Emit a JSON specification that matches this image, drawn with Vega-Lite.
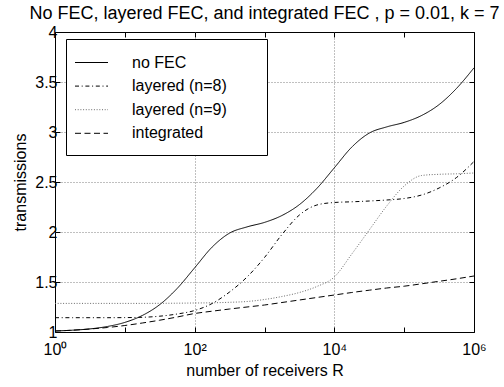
{
  "$schema": "https://vega.github.io/schema/vega-lite/v6.json",
  "width": 419,
  "height": 300,
  "autosize": {"type": "none"},
  "padding": {"left": 55, "top": 32, "right": 30, "bottom": 55},
  "background": "white",
  "config": {
    "view": {"stroke": "black", "strokeWidth": 1},
    "font": "Liberation Sans",
    "legend": {
      "orient": "none",
      "legendX": 11,
      "legendY": 7,
      "title": null,
      "strokeColor": "black",
      "fillColor": "white",
      "padding": 13,
      "symbolType": "M-1.65,0H1.65",
      "symbolSize": 400,
      "symbolStrokeWidth": 1,
      "symbolOffset": 2,
      "labelFont": "Liberation Sans",
      "labelFontSize": 16,
      "labelColor": "black",
      "labelOffset": 30,
      "labelLimit": 400,
      "rowPadding": 4.6
    }
  },
  "title": {
    "text": "No FEC, layered FEC, and integrated FEC , p = 0.01, k = 7",
    "font": "Liberation Sans",
    "fontSize": 18,
    "fontWeight": "normal",
    "color": "black",
    "anchor": "middle",
    "offset": 1
  },
  "data": {
    "values": [
      {"R": 1, "series": "no FEC", "T": 1.010},
      {"R": 1.778, "series": "no FEC", "T": 1.018},
      {"R": 3.162, "series": "no FEC", "T": 1.031},
      {"R": 5.623, "series": "no FEC", "T": 1.055},
      {"R": 10, "series": "no FEC", "T": 1.096},
      {"R": 17.78, "series": "no FEC", "T": 1.165},
      {"R": 31.62, "series": "no FEC", "T": 1.274},
      {"R": 56.23, "series": "no FEC", "T": 1.436},
      {"R": 100, "series": "no FEC", "T": 1.642},
      {"R": 177.8, "series": "no FEC", "T": 1.849},
      {"R": 316.2, "series": "no FEC", "T": 1.989},
      {"R": 562.3, "series": "no FEC", "T": 2.051},
      {"R": 1000, "series": "no FEC", "T": 2.096},
      {"R": 1778, "series": "no FEC", "T": 2.165},
      {"R": 3162, "series": "no FEC", "T": 2.274},
      {"R": 5623, "series": "no FEC", "T": 2.436},
      {"R": 10000, "series": "no FEC", "T": 2.642},
      {"R": 17783, "series": "no FEC", "T": 2.849},
      {"R": 31623, "series": "no FEC", "T": 2.989},
      {"R": 56234, "series": "no FEC", "T": 3.051},
      {"R": 100000, "series": "no FEC", "T": 3.096},
      {"R": 177828, "series": "no FEC", "T": 3.165},
      {"R": 316228, "series": "no FEC", "T": 3.274},
      {"R": 562341, "series": "no FEC", "T": 3.436},
      {"R": 1000000, "series": "no FEC", "T": 3.642},

      {"R": 1, "series": "layered (n=8)", "T": 1.143},
      {"R": 1.778, "series": "layered (n=8)", "T": 1.143},
      {"R": 3.162, "series": "layered (n=8)", "T": 1.143},
      {"R": 5.623, "series": "layered (n=8)", "T": 1.143},
      {"R": 10, "series": "layered (n=8)", "T": 1.144},
      {"R": 17.78, "series": "layered (n=8)", "T": 1.147},
      {"R": 31.62, "series": "layered (n=8)", "T": 1.158},
      {"R": 56.23, "series": "layered (n=8)", "T": 1.180},
      {"R": 100, "series": "layered (n=8)", "T": 1.215},
      {"R": 177.8, "series": "layered (n=8)", "T": 1.285},
      {"R": 316.2, "series": "layered (n=8)", "T": 1.400},
      {"R": 562.3, "series": "layered (n=8)", "T": 1.550},
      {"R": 1000, "series": "layered (n=8)", "T": 1.745},
      {"R": 1778, "series": "layered (n=8)", "T": 1.975},
      {"R": 3162, "series": "layered (n=8)", "T": 2.170},
      {"R": 5623, "series": "layered (n=8)", "T": 2.270},
      {"R": 10000, "series": "layered (n=8)", "T": 2.295},
      {"R": 17783, "series": "layered (n=8)", "T": 2.302},
      {"R": 31623, "series": "layered (n=8)", "T": 2.310},
      {"R": 56234, "series": "layered (n=8)", "T": 2.320},
      {"R": 100000, "series": "layered (n=8)", "T": 2.335},
      {"R": 177828, "series": "layered (n=8)", "T": 2.370},
      {"R": 316228, "series": "layered (n=8)", "T": 2.440},
      {"R": 562341, "series": "layered (n=8)", "T": 2.545},
      {"R": 1000000, "series": "layered (n=8)", "T": 2.705},

      {"R": 1, "series": "layered (n=9)", "T": 1.286},
      {"R": 1.778, "series": "layered (n=9)", "T": 1.286},
      {"R": 3.162, "series": "layered (n=9)", "T": 1.286},
      {"R": 5.623, "series": "layered (n=9)", "T": 1.286},
      {"R": 10, "series": "layered (n=9)", "T": 1.286},
      {"R": 17.78, "series": "layered (n=9)", "T": 1.286},
      {"R": 31.62, "series": "layered (n=9)", "T": 1.287},
      {"R": 56.23, "series": "layered (n=9)", "T": 1.288},
      {"R": 100, "series": "layered (n=9)", "T": 1.290},
      {"R": 177.8, "series": "layered (n=9)", "T": 1.292},
      {"R": 316.2, "series": "layered (n=9)", "T": 1.297},
      {"R": 562.3, "series": "layered (n=9)", "T": 1.305},
      {"R": 1000, "series": "layered (n=9)", "T": 1.325},
      {"R": 1778, "series": "layered (n=9)", "T": 1.355},
      {"R": 3162, "series": "layered (n=9)", "T": 1.395},
      {"R": 5623, "series": "layered (n=9)", "T": 1.455},
      {"R": 10000, "series": "layered (n=9)", "T": 1.550},
      {"R": 17783, "series": "layered (n=9)", "T": 1.780},
      {"R": 31623, "series": "layered (n=9)", "T": 2.020},
      {"R": 56234, "series": "layered (n=9)", "T": 2.260},
      {"R": 100000, "series": "layered (n=9)", "T": 2.460},
      {"R": 177828, "series": "layered (n=9)", "T": 2.565},
      {"R": 316228, "series": "layered (n=9)", "T": 2.577},
      {"R": 562341, "series": "layered (n=9)", "T": 2.582},
      {"R": 1000000, "series": "layered (n=9)", "T": 2.590},

      {"R": 1, "series": "integrated", "T": 1.010},
      {"R": 1.778, "series": "integrated", "T": 1.018},
      {"R": 3.162, "series": "integrated", "T": 1.030},
      {"R": 5.623, "series": "integrated", "T": 1.045},
      {"R": 10, "series": "integrated", "T": 1.065},
      {"R": 17.78, "series": "integrated", "T": 1.090},
      {"R": 31.62, "series": "integrated", "T": 1.118},
      {"R": 56.23, "series": "integrated", "T": 1.150},
      {"R": 100, "series": "integrated", "T": 1.185},
      {"R": 177.8, "series": "integrated", "T": 1.208},
      {"R": 316.2, "series": "integrated", "T": 1.230},
      {"R": 562.3, "series": "integrated", "T": 1.250},
      {"R": 1000, "series": "integrated", "T": 1.270},
      {"R": 1778, "series": "integrated", "T": 1.295},
      {"R": 3162, "series": "integrated", "T": 1.320},
      {"R": 5623, "series": "integrated", "T": 1.345},
      {"R": 10000, "series": "integrated", "T": 1.370},
      {"R": 17783, "series": "integrated", "T": 1.395},
      {"R": 31623, "series": "integrated", "T": 1.418},
      {"R": 56234, "series": "integrated", "T": 1.440},
      {"R": 100000, "series": "integrated", "T": 1.458},
      {"R": 177828, "series": "integrated", "T": 1.482},
      {"R": 316228, "series": "integrated", "T": 1.507},
      {"R": 562341, "series": "integrated", "T": 1.532},
      {"R": 1000000, "series": "integrated", "T": 1.560}
    ]
  },
  "layer": [
    {
      "mark": {"type": "line", "interpolate": "monotone", "strokeWidth": 1, "clip": true},
      "encoding": {
        "x": {
          "field": "R",
          "type": "quantitative",
          "scale": {"type": "log", "domain": [1, 1000000], "nice": false},
          "axis": {
            "orient": "bottom",
            "values": [1, 10, 100, 1000, 10000, 100000, 1000000],
            "labelExpr": "datum.value == 1 ? '10⁰' : datum.value == 100 ? '10²' : datum.value == 10000 ? '10⁴' : datum.value == 1000000 ? '10⁶' : ''",
            "labelFont": "Liberation Sans",
            "labelFontSize": 16,
            "labelColor": "black",
            "labelPadding": 14,
            "labelFlush": false,
            "labelOverlap": false,
            "labelBound": false,
            "tickSize": -5,
            "tickColor": "black",
            "tickWidth": 1,
            "domain": false,
            "grid": true,
            "gridColor": "#808080",
            "gridDash": [1, 2],
            "gridWidth": 1,
            "gridOpacity": {"condition": {"test": "datum.value == 100 || datum.value == 10000", "value": 1}, "value": 0},
            "title": "number of receivers R",
            "titleFont": "Liberation Sans",
            "titleFontSize": 16,
            "titleFontWeight": "normal",
            "titleColor": "black",
            "titlePadding": 5
          }
        },
        "y": {
          "field": "T",
          "type": "quantitative",
          "scale": {"domain": [1, 4], "nice": false, "zero": false},
          "axis": {
            "orient": "left",
            "values": [1, 1.5, 2, 2.5, 3, 3.5, 4],
            "format": "~g",
            "labelFont": "Liberation Sans",
            "labelFontSize": 16,
            "labelColor": "black",
            "labelPadding": 3,
            "labelFlush": false,
            "labelOverlap": false,
            "labelBound": false,
            "tickSize": -5,
            "tickColor": "black",
            "tickWidth": 1,
            "domain": false,
            "grid": true,
            "gridColor": "#808080",
            "gridDash": [1, 2],
            "gridWidth": 1,
            "gridOpacity": {"condition": {"test": "datum.value == 1 || datum.value == 4", "value": 0}, "value": 1},
            "title": "transmissions",
            "titleFont": "Liberation Sans",
            "titleFontSize": 16,
            "titleFontWeight": "normal",
            "titleColor": "black",
            "titlePadding": 6
          }
        },
        "color": {
          "field": "series",
          "type": "nominal",
          "scale": {
            "domain": ["no FEC", "layered (n=8)", "layered (n=9)", "integrated"],
            "range": ["black", "black", "#6a6a6a", "black"]
          },
          "legend": {
            "labelExpr": "datum.label + '\u00a0\u00a0\u00a0\u00a0\u00a0\u00a0\u200b'"
          }
        },
        "strokeDash": {
          "field": "series",
          "type": "nominal",
          "scale": {
            "domain": ["no FEC", "layered (n=8)", "layered (n=9)", "integrated"],
            "range": [[1, 0], [4, 2.7, 1, 2.7], [1, 1.7], [6, 3.5]]
          },
          "legend": {
            "labelExpr": "datum.label + '\u00a0\u00a0\u00a0\u00a0\u00a0\u00a0\u200b'"
          }
        }
      }
    },
    {
      "mark": {"type": "point", "opacity": 0},
      "encoding": {
        "x": {
          "field": "R",
          "type": "quantitative",
          "axis": {
            "orient": "top",
            "values": [1, 10, 100, 1000, 10000, 100000, 1000000],
            "labels": false,
            "tickSize": -5,
            "tickColor": "black",
            "domain": false,
            "grid": false,
            "title": null
          }
        },
        "y": {
          "field": "T",
          "type": "quantitative",
          "axis": {
            "orient": "right",
            "values": [1, 1.5, 2, 2.5, 3, 3.5, 4],
            "labels": false,
            "tickSize": -5,
            "tickColor": "black",
            "domain": false,
            "grid": false,
            "title": null
          }
        }
      }
    }
  ],
  "resolve": {"axis": {"x": "independent", "y": "independent"}}
}
